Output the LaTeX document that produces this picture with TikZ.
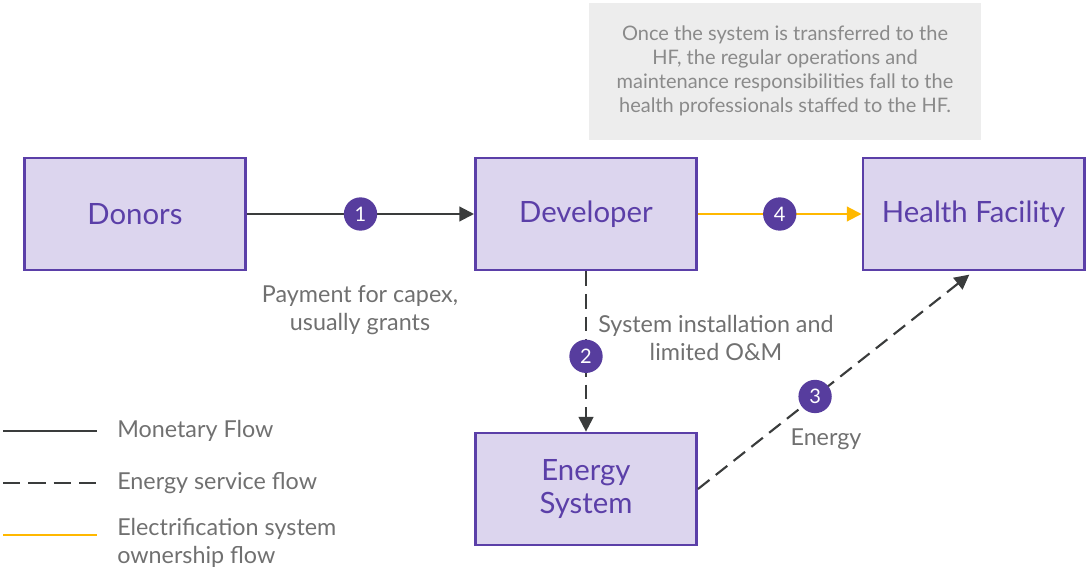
\documentclass[tikz,border=0pt]{standalone}
\usepackage{fontspec}
\setmainfont{Lato}
\usetikzlibrary{arrows.meta}
\definecolor{boxfill}{HTML}{DCD5EE}
\definecolor{boxline}{HTML}{5B3FA8}
\definecolor{boxtext}{HTML}{5B3FA8}
\definecolor{numfill}{HTML}{573D9E}
\definecolor{flow}{HTML}{3A3C3C}
\definecolor{own}{HTML}{FFB800}
\definecolor{lbl}{HTML}{707070}
\definecolor{notebg}{HTML}{EDEDED}
\definecolor{notetxt}{HTML}{8A8A8A}
\begin{document}
\begin{tikzpicture}[x=0.75pt,y=-0.75pt,
  actor/.style={draw=boxline,fill=boxfill,line width=2pt,minimum width=166pt,minimum height=84pt,inner sep=0pt,
    text=boxtext,font=\fontsize{22}{25}\selectfont,align=center},
  num/.style={circle,fill=numfill,minimum size=25pt,inner sep=0pt,text=white,font=\fontsize{15}{15}\selectfont},
  lab/.style={text=lbl,font=\fontsize{17.5}{20.5}\selectfont,align=center,inner sep=0pt},
  money/.style={draw=flow,line width=1.6pt},
  energy/.style={draw=flow,line width=1.6pt,dash pattern=on 11pt off 6pt},
  owner/.style={draw=own,line width=1.6pt},
  tip/.style={-{Triangle[length=11pt,width=11pt]}}]
\useasboundingbox (0,0) rectangle (1086,570);
% note
\node[fill=notebg,minimum width=294pt,minimum height=103pt,inner sep=0pt] (note) at (785,71.5) {};
\node[text=notetxt,font=\fontsize{15}{18}\selectfont,align=center,inner sep=0pt] (notetext) at (785,71) {Once the system is transferred to the\\HF, the regular operations and\\maintenance responsibilities fall to the\\health professionals staffed to the HF.};
% boxes
\node[actor] (donors) at (135,214) {Donors};
\node[actor] (dev) at (586,214) {Developer};
\node[actor] (hf) at (973.5,214) {Health Facility};
\node[actor] (es) at (586,489) {Energy\\System};
% connectors
\draw[money,tip] (donors.east) -- node[num,pos=0.5] (n1) {1} (dev.west);
\draw[owner,tip,draw=own,color=own] (dev.east) -- node[num,pos=0.5] (n4) {4} (hf.west);
\draw[energy,tip] (dev.south) -- node[num,pos=0.53] (n2) {2} (es.north);
\draw[energy,tip,shorten >=4pt] (es.east) -- node[num,pos=0.425] (n3) {3} (hf.south);
% labels
\node[lab] (l1) at (360,310) {Payment for capex,\\usually grants};
\node[lab] (l2) at (716,338) {System installation and\\limited O\&M};
\node[lab] (l3) at (826,439) {Energy};
% legend
\coordinate (a1) at (3,431); \coordinate (b1) at (97,431);
\coordinate (a2) at (3,483); \coordinate (b2) at (97,483);
\coordinate (a3) at (3,535); \coordinate (b3) at (97,535);
\draw[flow,line width=1.2pt] (a1) -- (b1);
\draw[flow,line width=1.2pt,dash pattern=on 13pt off 6pt] (a2) -- (b2);
\draw[own,line width=1.2pt] (a3) -- (b3);
\node[lab,anchor=west,align=left] (t1) at (117,431) {Monetary Flow};
\node[lab,anchor=west,align=left] (t2) at (117,483) {Energy service flow};
\node[lab,anchor=west,align=left] (t3) at (117,543) {Electrification system\\ownership flow};
\end{tikzpicture}
\end{document}
